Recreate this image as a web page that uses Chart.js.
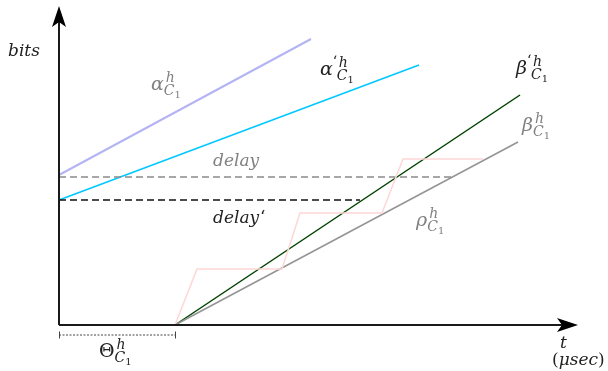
<!DOCTYPE html>
<html>
<head>
<meta charset="utf-8">
<script src="https://cdn.jsdelivr.net/npm/chart.js@4.4.1/dist/chart.umd.min.js"></script>
<style>
  html, body { margin: 0; padding: 0; background: #fff; }
  #wrap { width: 608px; height: 371px; }
</style>
</head>
<body>
<div id="wrap"><canvas id="curves" width="608" height="371"></canvas></div>
<script>
// time (µs) and bits of every curve, origin at the axes crossing
const theta = 116;
const alphaT = [0, 252];
const alphaBits = [150, 286];
const alphaPrimeT = [0, 360];
const alphaPrimeBits = [125, 260];
const betaPrimeT = [theta, 461];
const betaPrimeBits = [0, 230];
const betaT = [theta, 459];
const betaBits = [0, 183];
const rhoT = [theta, 138, 223, 241, 323, 344, 424];
const rhoBits = [0, 56, 56, 112, 112, 166, 166];
const delayT = [0, 396];
const delayBits = [148, 148];
const delayPrimeT = [0, 301];
const delayPrimeBits = [125, 125];

const pts = (xs, ys) => xs.map((x, i) => ({ x: x, y: ys[i] }));

var serif = '"DejaVu Serif", "Times New Roman", serif';

// symbol with ^h and _{C_1}
var drawSym = function(ctx, x, y, main, prime, color, upright) {
    ctx.fillStyle = color;
    ctx.textBaseline = 'alphabetic';
    ctx.textAlign = 'left';
    ctx.font = (upright ? '' : 'italic ') + '19px ' + serif;
    ctx.fillText(main, x, y);
    let w = ctx.measureText(main).width;
    let sx = x + w;
    if (prime) {
        ctx.font = '14px ' + serif;
        ctx.fillText('\u2018', sx, y - 9);
        sx += 4;
    }
    ctx.font = 'italic 14px ' + serif;
    ctx.fillText('h', sx + 2, y - 8);
    ctx.fillText('C', sx, y + 5);
    let cw = ctx.measureText('C').width;
    ctx.font = '10px ' + serif;
    ctx.fillText('1', sx + cw, y + 8);
};

const annotations = {
    id: 'annotations',
    afterDraw(chart) {
        const ctx = chart.ctx;
        const xs = chart.scales.x, ys = chart.scales.y;
        const ox = xs.getPixelForValue(0), oy = ys.getPixelForValue(0);
        ctx.save();

        // axes
        ctx.strokeStyle = '#1a1a1a';
        ctx.fillStyle = '#000';
        ctx.lineWidth = 2;
        ctx.beginPath();
        ctx.moveTo(ox, oy);
        ctx.lineTo(xs.getPixelForValue(505), oy);
        ctx.moveTo(ox, oy);
        ctx.lineTo(ox, ys.getPixelForValue(306));
        ctx.stroke();
        // arrow heads
        let tx = xs.getPixelForValue(519);
        ctx.beginPath();
        ctx.moveTo(tx, oy);
        ctx.lineTo(tx - 21, oy - 7);
        ctx.lineTo(tx - 16, oy);
        ctx.lineTo(tx - 21, oy + 7);
        ctx.closePath();
        ctx.fill();
        let ty = ys.getPixelForValue(319);
        ctx.beginPath();
        ctx.moveTo(ox, ty);
        ctx.lineTo(ox - 7, ty + 21);
        ctx.lineTo(ox, ty + 16);
        ctx.lineTo(ox + 7, ty + 21);
        ctx.closePath();
        ctx.fill();

        // Theta bracket
        let bx = xs.getPixelForValue(theta), by = ys.getPixelForValue(-10);
        ctx.strokeStyle = '#444';
        ctx.lineWidth = 1;
        ctx.setLineDash([2, 1.5]);
        ctx.beginPath();
        ctx.moveTo(ox, by);
        ctx.lineTo(bx, by);
        ctx.stroke();
        ctx.setLineDash([]);
        ctx.beginPath();
        ctx.moveTo(ox + 0.5, by - 3.5);
        ctx.lineTo(ox + 0.5, by + 3.5);
        ctx.moveTo(bx + 0.5, by - 3.5);
        ctx.lineTo(bx + 0.5, by + 3.5);
        ctx.stroke();

        // labels
        ctx.fillStyle = '#222';
        ctx.font = 'italic 17px ' + serif;
        ctx.fillText('bits', 8, 56);
        ctx.fillText('t', 560, 348);
        let px = 552;
        ctx.font = '17px ' + serif;
        ctx.fillText('(', px, 365);
        px += ctx.measureText('(').width;
        ctx.font = 'italic 17px ' + serif;
        ctx.fillText('\u03bcsec', px, 365);
        px += ctx.measureText('\u03bcsec').width;
        ctx.font = '17px ' + serif;
        ctx.fillText(')', px, 365);

        ctx.font = 'italic 17px ' + serif;
        ctx.fillStyle = '#808080';
        ctx.fillText('delay', 213, 166);
        ctx.fillStyle = '#222';
        ctx.fillText('delay', 213, 223);
        let dw = ctx.measureText('delay').width;
        ctx.font = '17px ' + serif;
        ctx.fillText('\u2018', 213 + dw + 1, 222);

        drawSym(ctx, 151, 90, '\u03b1', false, '#808080');
        drawSym(ctx, 320, 75, '\u03b1', true, '#222');
        drawSym(ctx, 516, 74, '\u03b2', true, '#222');
        drawSym(ctx, 522, 131, '\u03b2', false, '#808080');
        drawSym(ctx, 416, 226, '\u03c1', false, '#808080');
        drawSym(ctx, 99, 357, '\u0398', false, '#222', true);
        ctx.restore();
    }
};

var buildChart = function() {
    new Chart(document.getElementById('curves'), {
        type: 'scatter',
        data: {
            datasets: [
                { data: pts(rhoT, rhoBits), borderColor: '#ffd6d6', borderWidth: 1.5 },
                { data: pts(delayT, delayBits), borderColor: '#8a8a8a', borderWidth: 1.5, borderDash: [7, 4] },
                { data: pts(delayPrimeT, delayPrimeBits), borderColor: '#111', borderWidth: 1.5, borderDash: [7, 4] },
                { data: pts(alphaT, alphaBits), borderColor: '#b4b4f4', borderWidth: 2 },
                { data: pts(alphaPrimeT, alphaPrimeBits), borderColor: '#00c8ff', borderWidth: 1.5 },
                { data: pts(betaT, betaBits), borderColor: '#959595', borderWidth: 1.6 },
                { data: pts(betaPrimeT, betaPrimeBits), borderColor: '#004400', borderWidth: 1.5 }
            ].map(d => Object.assign(d, { showLine: true, pointRadius: 0, tension: 0, fill: false }))
        },
        options: {
            responsive: false,
            animation: false,
            layout: { padding: 0 },
            plugins: { legend: { display: false }, tooltip: { enabled: false } },
            scales: {
                x: { type: 'linear', display: false, min: -59, max: 549 },
                y: { type: 'linear', display: false, min: -46, max: 325 }
            }
        },
        plugins: [annotations]
    });
};

buildChart();
</script>
</body>
</html>
